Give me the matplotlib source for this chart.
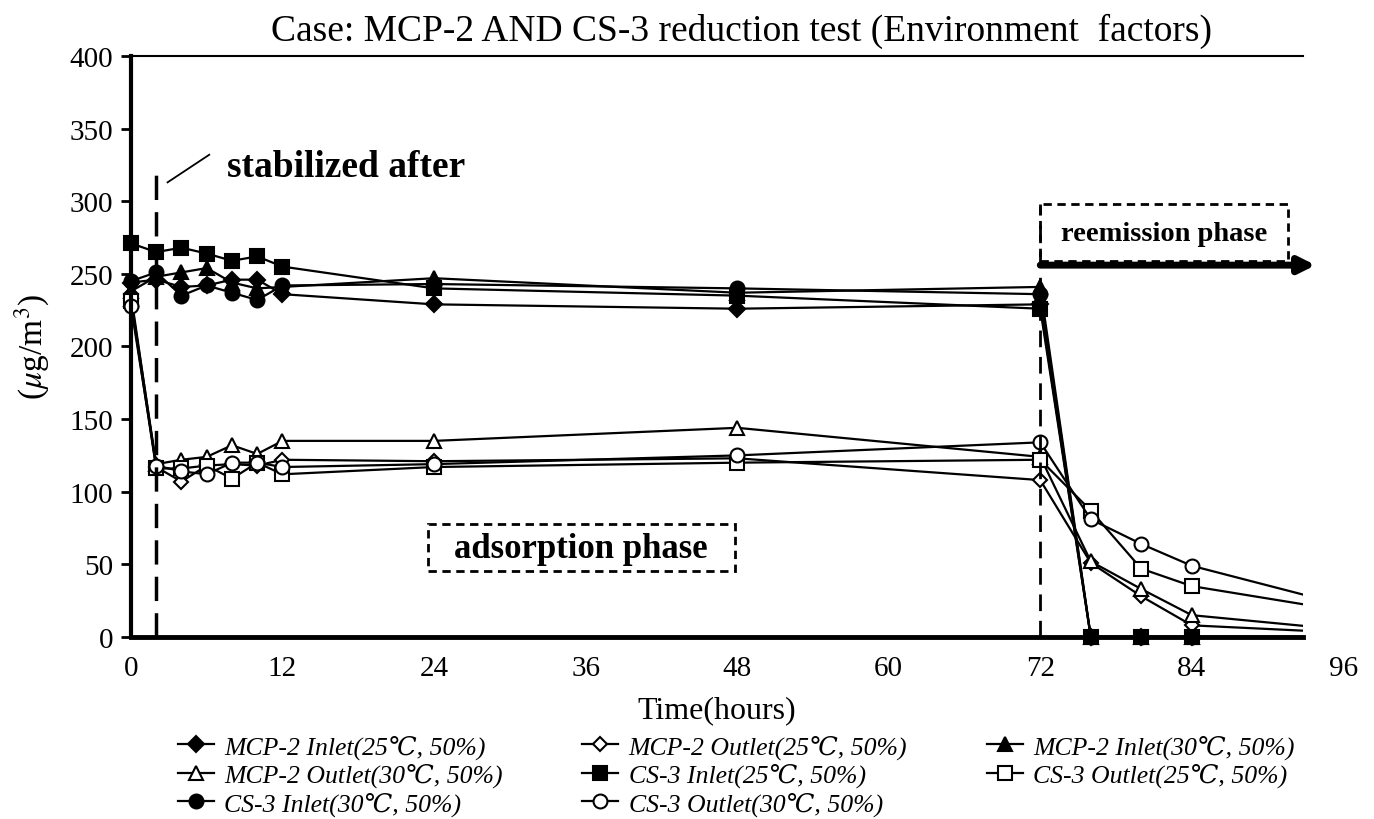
import matplotlib
matplotlib.use("Agg")
import matplotlib.pyplot as plt
from matplotlib.patches import Rectangle

plt.rcParams["font.family"] = ["Liberation Serif", "DejaVu Serif"]
plt.rcParams["mathtext.fontset"] = "stix"

# sampling times (hours)
hours = [0, 2, 4, 6, 8, 10, 12, 24, 48, 72, 76, 80, 84, 96]

# concentrations (ug/m3)
mcp_in_25 = [244, 246, 241, 242, 246, 246, 236, 229, 226, 229, 0, 0, 0, 0]
mcp_out_25 = [236, 117, 107, 118, 119, 118, 122, 121, 123, 108, 51, 28, 8, 3]
mcp_in_30 = [238, 248, 251, 254, 244, 240, 241, 247, 237, 241, 0, 0, 0, 0]
mcp_out_30 = [233, 119, 122, 124, 132, 126, 135, 135, 144, 124, 52, 33, 15, 5]
cs_in_25 = [271, 265, 268, 264, 259, 262, 255, 240, 235, 226, 0, 0, 0, 0]
cs_out_25 = [231, 116, 116, 118, 109, 120, 112, 117, 120, 122, 87, 47, 35, 18]
cs_in_30 = [245, 251, 235, 242, 237, 232, 242, 243, 240, 236, 0, 0, 0, 0]
cs_out_30 = [228, 118, 114, 112, 120, 120, 117, 119, 125, 134, 81, 64, 49, 22]

labels = ["MCP-2 Inlet(25\u2103, 50%)", "MCP-2 Outlet(25\u2103, 50%)",
          "MCP-2 Inlet(30\u2103, 50%)", "MCP-2 Outlet(30\u2103, 50%)",
          "CS-3 Inlet(25\u2103, 50%)", "CS-3 Outlet(25\u2103, 50%)",
          "CS-3 Inlet(30\u2103, 50%)", "CS-3 Outlet(30\u2103, 50%)"]
series = [mcp_in_25, mcp_out_25, mcp_in_30, mcp_out_30,
          cs_in_25, cs_out_25, cs_in_30, cs_out_30]
markers = ["D", "D", "^", "^", "s", "s", "o", "o"]
msizes = [8, 7, 10, 10, 10, 10, 10, 10]
filled = [True, False, True, False, True, False, True, False]

fig = plt.figure(figsize=(13.74, 8.2), dpi=100)
ax = fig.add_axes([0.0953, 0.222, 0.853, 0.7085])

# let markers at t=0 show over the y axis, but cut lines at the right edge
clip = Rectangle((-0.03, -0.05), 1.03, 1.1, transform=ax.transAxes,
                 fill=False, visible=False)
ax.add_patch(clip)

handles = []
for ys, lab, m, ms, f in zip(series, labels, markers, msizes, filled):
    h, = ax.plot(hours, ys, color="black", lw=1.6, marker=m, markersize=ms,
                 markerfacecolor="black" if f else "white",
                 markeredgecolor="black", markeredgewidth=1.5, label=lab)
    h.set_clip_path(clip)
    handles.append(h)

ax.set_xlim(0, 92.8)
ax.set_ylim(0, 400)
ax.set_xticks(range(0, 96, 12))
ax.set_yticks(range(0, 401, 50))
ax.tick_params(axis="x", length=0, labelsize=21, pad=13)
ax.tick_params(axis="y", direction="out", length=7, width=2, labelsize=21, pad=6)
ax.annotate("96", xy=(96, 0), xycoords=("data", "axes fraction"),
            xytext=(0, -13), textcoords="offset points", ha="center",
            va="top", fontsize=21, annotation_clip=False)

ax.spines["right"].set_visible(False)
ax.spines["left"].set_linewidth(3)
ax.spines["bottom"].set_linewidth(3.5)
ax.spines["top"].set_linewidth(1.5)

fig.text(0.54, 0.962, "Case: MCP-2 AND CS-3 reduction test (Environment  factors)",
         fontsize=27, ha="center", va="center")
ax.set_xlabel("Time(hours)", fontsize=23, labelpad=10)
ax.set_ylabel(r"($\mu$g/m$^3$)", fontsize=24, labelpad=12)

# phase markers
ax.plot([2, 2], [0, 320], color="black", lw=2.5, dashes=(7, 3.5))
ax.plot([72, 72], [0, 298], color="black", lw=2, dashes=(6, 3.5))
ax.plot([2.9, 6.2], [313, 332], color="black", lw=1.3)
ax.text(7.6, 324, "stabilized after", fontsize=27, fontweight="bold", va="center")

ax.add_patch(Rectangle((23.5, 45.5), 24.3, 32.5, fill=False, lw=2,
                       ls=(0, (3, 2)), ec="black"))
ax.text(35.6, 61, "adsorption phase", fontsize=25, fontweight="bold",
        ha="center", va="center")

ax.add_patch(Rectangle((72, 259), 19.6, 39, fill=False, lw=2,
                       ls=(0, (3, 2)), ec="black", clip_on=False))
ax.text(81.8, 278, "reemission phase", fontsize=20.5, fontweight="bold",
        ha="center", va="center")
ax.annotate("", xy=(93.8, 256), xytext=(72, 256), annotation_clip=False,
            arrowprops=dict(arrowstyle="-|>", lw=5, color="black",
                            mutation_scale=24, shrinkA=0, shrinkB=0))

order = [0, 3, 6, 1, 4, 7, 2, 5]
fig.legend([handles[i] for i in order], [labels[i] for i in order],
           ncol=3, loc="upper left", bbox_to_anchor=(0.122, 0.116),
           frameon=False, prop={"size": 18.5, "style": "italic"},
           handlelength=1.4, handletextpad=0.4, columnspacing=3.1,
           labelspacing=0.16, borderaxespad=0)

fig.savefig("out.png", dpi=100)
